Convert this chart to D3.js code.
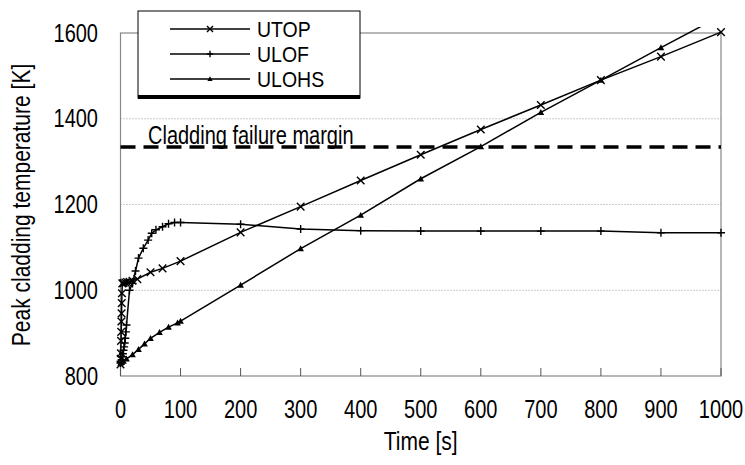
<!DOCTYPE html>
<html><head><meta charset="utf-8">
<script src="https://cdn.jsdelivr.net/npm/d3@7"></script>
<style>
body{margin:0;background:#fff}
text{font-family:"Liberation Sans",Arial,sans-serif;fill:#000}
</style>
</head><body>
<svg id="chart" width="745" height="465"></svg>
<script>
// ---- data ----
const xTicks = [0,100,200,300,400,500,600,700,800,900,1000];
const yTicks = [800,1000,1200,1400,1600];
const gridValues = [1000,1200,1400];
const marginValue = 1334;
const marginLabel = "Cladding failure margin";
const seriesNames = ["UTOP","ULOF","ULOHS"];

const utopTime = [0,0.3,0.6,0.9,1.2,1.5,1.8,2.1,2.4,3,5,8,11,15,20,28,50,70,100,200,300,400,500,600,700,800,900,1000];
const utopTemp = [827,840,853,882,903,927,946,970,993,1016,1017,1018,1019,1020,1022,1026,1042,1051,1068,1135,1195,1256,1316,1375,1432,1490,1545,1602];

const ulofTime = [0,1,2,3,4,5,6,7,8,9,10,15,20,25,30,38,46,52,59,70,80,90,100,200,300,400,500,600,700,800,900,1000];
const ulofTemp = [830,833,838,845,852,860,868,877,888,903,919,1000,1016,1045,1075,1098,1117,1133,1141,1148,1155,1158,1158,1154,1143,1139,1138,1138,1138,1138,1134,1134];

const ulohsTime = [0,2,5,10,20,30,40,50,65,80,95,100,200,300,400,500,600,700,800,900,1000];
const ulohsTemp = [830,832,835,840,850,862,875,888,902,914,924,928,1012,1097,1175,1260,1335,1415,1490,1566,1640];

// ---- layout ----
const svg = d3.select("#chart");
const x = d3.scaleLinear().domain([0,1000]).range([120.5,721]);
const y = d3.scaleLinear().domain([800,1600]).range([376,33]);
const font = 20;
const stretch = 1.25;

function label(g, tx, ty, str, size, anchor, rot, st){
  return g.append("text")
    .attr("transform", `translate(${tx},${ty})` + (rot ? ` rotate(${rot})` : "") + ` scale(1,${st||stretch})`)
    .attr("text-anchor", anchor||"start").attr("font-size", size).text(str);
}

// gridlines
svg.selectAll("line.grid").data(gridValues).enter().append("line")
  .attr("x1",x(0)).attr("x2",x(1000)).attr("y1",d=>y(d)).attr("y2",d=>y(d))
  .attr("stroke","#999").attr("stroke-width",1).attr("stroke-dasharray","1,2");

// frame
const frameColor="#888";
svg.append("rect").attr("x",x(0)).attr("y",y(1600)).attr("width",x(1000)-x(0)).attr("height",y(800)-y(1600))
  .attr("fill","none").attr("stroke",frameColor).attr("stroke-width",1.2);

// x ticks (inward)
svg.selectAll("line.xt").data(xTicks).enter().append("line")
  .attr("x1",d=>x(d)).attr("x2",d=>x(d)).attr("y1",y(800)).attr("y2",y(800)-8)
  .attr("stroke","#555").attr("stroke-width",1);

// tick labels
xTicks.forEach(d=>label(svg, x(d), 418, d, font, "middle"));
yTicks.forEach(d=>label(svg, 98, y(d)+8.5, d, font, "end"));

// axis titles
label(svg, (x(0)+x(1000))/2, 450, "Time [s]", 21, "middle");
label(svg, 30, 205, "Peak cladding temperature [K]", 21, "middle", -90);

// margin line
svg.append("line").attr("x1",x(0)).attr("x2",x(1000)).attr("y1",y(marginValue)).attr("y2",y(marginValue))
  .attr("stroke","#000").attr("stroke-width",3.5).attr("stroke-dasharray","15,8");
label(svg, 148, y(marginValue)-3, marginLabel, font, "start");

// clip for lines
svg.append("clipPath").attr("id","clip").append("rect")
  .attr("x",0).attr("y",y(1600)-6).attr("width",745).attr("height",465);

const line = d3.line().x(d=>x(d[0])).y(d=>y(d[1]));
const series = [
  {name:seriesNames[0], data:d3.zip(utopTime,utopTemp), marker:"x"},
  {name:seriesNames[1], data:d3.zip(ulofTime,ulofTemp), marker:"+"},
  {name:seriesNames[2], data:d3.zip(ulohsTime,ulohsTemp), marker:"tri"}
];

function drawMarker(g, type, cx, cy, scale){
  const s = scale||1;
  if(type==="x"){
    const a=3.8*s;
    g.append("path").attr("d",`M${cx-a},${cy-a}L${cx+a},${cy+a}M${cx-a},${cy+a}L${cx+a},${cy-a}`)
      .attr("stroke","#000").attr("stroke-width",1.4).attr("fill","none");
  } else if(type==="+"){
    const a=4*s;
    g.append("path").attr("d",`M${cx-a},${cy}L${cx+a},${cy}M${cx},${cy-a}L${cx},${cy+a}`)
      .attr("stroke","#000").attr("stroke-width",1.4).attr("fill","none");
  } else {
    const a=3.3*s;
    g.append("path").attr("d",`M${cx},${cy-a}L${cx+a},${cy+a*0.8}L${cx-a},${cy+a*0.8}Z`).attr("fill","#000");
  }
}

const plotG = svg.append("g").attr("clip-path","url(#clip)");
series.forEach(s=>{
  plotG.append("path").datum(s.data).attr("d",line).attr("fill","none").attr("stroke","#000").attr("stroke-width",1.5);
  s.data.forEach(d=>drawMarker(plotG, s.marker, x(d[0]), y(d[1])));
});

// legend
const lg = svg.append("g");
lg.append("rect").attr("x",138).attr("y",11).attr("width",222).attr("height",87)
  .attr("fill","#fff").attr("stroke","#000").attr("stroke-width",1);
lg.append("line").attr("x1",138).attr("x2",360).attr("y1",97).attr("y2",97).attr("stroke","#000").attr("stroke-width",4);
const rowY=[29,54,79];
series.forEach((s,i)=>{
  lg.append("line").attr("x1",170).attr("x2",250).attr("y1",rowY[i]).attr("y2",rowY[i]).attr("stroke","#000").attr("stroke-width",1.5);
  drawMarker(lg, s.marker, 210, rowY[i], 0.8);
  label(lg, 257, rowY[i]+8, s.name, 19.5, "start", 0, 1.12);
});
</script>
</body></html>
